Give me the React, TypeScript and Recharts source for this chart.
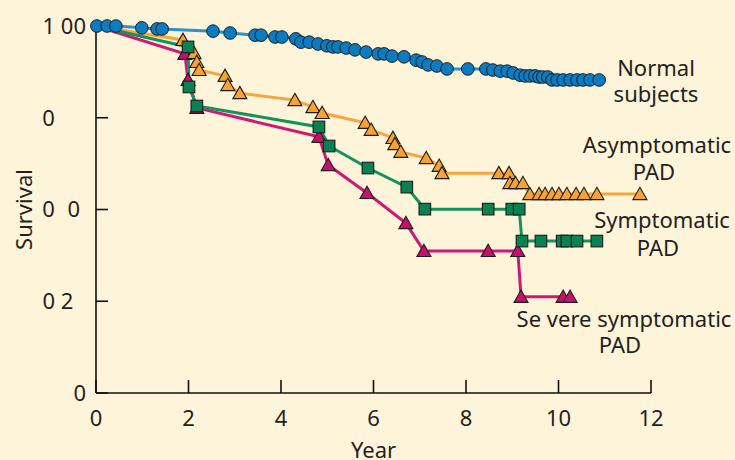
import React from "react";
import { LineChart, Line, XAxis, YAxis, Label } from "recharts";

// Values (year, survival fraction)
const normalYears = [0.02, 0.24, 0.43, 0.99, 1.32, 1.43, 2.53, 2.9, 3.44, 3.57, 3.87, 4.02, 4.32, 4.43, 4.61, 4.8, 4.99, 5.12, 5.23, 5.41, 5.6, 5.84, 6.1, 6.23, 6.4, 6.66, 6.92, 7.05, 7.18, 7.37, 7.59, 8.04, 8.43, 8.58, 8.74, 8.89, 9.02, 9.17, 9.28, 9.38, 9.49, 9.58, 9.66, 9.77, 9.86, 9.97, 10.1, 10.25, 10.4, 10.53, 10.68, 10.88];
const normalSurvival = [1, 1, 1, 0.995, 0.992, 0.992, 0.986, 0.981, 0.975, 0.975, 0.97, 0.97, 0.965, 0.956, 0.956, 0.951, 0.946, 0.943, 0.943, 0.94, 0.935, 0.929, 0.924, 0.924, 0.918, 0.916, 0.907, 0.902, 0.894, 0.891, 0.883, 0.883, 0.883, 0.88, 0.877, 0.877, 0.872, 0.866, 0.864, 0.864, 0.864, 0.861, 0.861, 0.861, 0.853, 0.853, 0.853, 0.853, 0.853, 0.853, 0.853, 0.853];

const asymYears = [0, 1.88, 2.12, 2.18, 2.23, 2.79, 2.85, 3.11, 4.3, 4.69, 4.89, 5.82, 5.95, 6.42, 6.46, 6.59, 7.14, 7.42, 7.48, 8.71, 8.93, 8.95, 9.07, 9.23, 9.38, 9.58, 9.71, 9.86, 10.01, 10.18, 10.38, 10.55, 10.83, 11.76];
const asymSurvival = [1, 0.962, 0.926, 0.902, 0.88, 0.864, 0.839, 0.817, 0.798, 0.779, 0.763, 0.736, 0.717, 0.695, 0.678, 0.657, 0.64, 0.619, 0.599, 0.599, 0.599, 0.572, 0.572, 0.572, 0.542, 0.542, 0.542, 0.542, 0.542, 0.542, 0.542, 0.542, 0.542, 0.542];

const sympYears = [0, 1.99, 2.01, 2.18, 4.82, 5.04, 5.88, 6.72, 7.11, 8.48, 8.99, 9.15, 9.21, 9.62, 10.08, 10.18, 10.4, 10.83];
const sympSurvival = [1, 0.943, 0.834, 0.782, 0.725, 0.673, 0.613, 0.561, 0.501, 0.501, 0.501, 0.501, 0.414, 0.414, 0.414, 0.414, 0.414, 0.414];

const severeYears = [0, 1.92, 1.99, 2.18, 4.82, 5.02, 5.86, 6.7, 7.09, 8.48, 9.12, 9.19, 10.1, 10.25];
const severeSurvival = [1, 0.924, 0.853, 0.777, 0.698, 0.621, 0.545, 0.463, 0.387, 0.387, 0.387, 0.262, 0.262, 0.262];

const xTicks = [0, 2, 4, 6, 8, 10, 12];
const yTicks = [0, 0.25, 0.5, 0.75, 1];
// tick labels as printed in the reference (figure/punctuation spaces keep the gaps)
const yTickLabels = ["0", "0 2\u2007", "0\u20070\u2008", "0\u2008\u2007\u2007", "1 00"];

const BG = "#fdf4d9";
const INK = "#231f20";
const FONT = "'Noto Sans', 'DejaVu Sans', sans-serif";

const toPoints = (years: number[], survival: number[]) =>
  years.map((year, i) => ({ year, survival: survival[i] }));

const normal = toPoints(normalYears, normalSurvival);
const asymptomatic = toPoints(asymYears, asymSurvival);
const symptomatic = toPoints(sympYears, sympSurvival);
const severe = toPoints(severeYears, severeSurvival);

const MARK_STROKE = "#1b1b1b";

const circleDot = (fill: string) => (p: any) => (
  <circle key={`c-${p.index}`} cx={p.cx} cy={p.cy} r={6.3} fill={fill} stroke={MARK_STROKE} strokeWidth={1} />
);

// first point of each PAD curve is the (0, 1) start, drawn without a marker
const triangleDot = (fill: string) => (p: any) => {
  if (p.index === 0) return <g key={`t-${p.index}`} />;
  const { cx, cy } = p;
  return (
    <polygon
      key={`t-${p.index}`}
      points={`${cx},${cy - 6.8} ${cx + 7},${cy + 5.5} ${cx - 7},${cy + 5.5}`}
      fill={fill}
      stroke={MARK_STROKE}
      strokeWidth={1.1}
      strokeLinejoin="miter"
    />
  );
};

const squareDot = (fill: string) => (p: any) => {
  if (p.index === 0) return <g key={`s-${p.index}`} />;
  return (
    <rect key={`s-${p.index}`} x={p.cx - 5.8} y={p.cy - 5.8} width={11.6} height={11.6} fill={fill} stroke={MARK_STROKE} strokeWidth={1.1} />
  );
};

function YTick({ x, y, payload }: any) {
  const label = yTickLabels[yTicks.indexOf(payload.value)];
  return (
    <text x={x} y={y} dy="0.36em" textAnchor="end" fill={INK} fontSize={22} fontFamily={FONT}>
      {label}
    </text>
  );
}

const annotations: { x: number; y: number; text: string }[] = [
  { x: 656, y: 76, text: "Normal" },
  { x: 656, y: 102, text: "subjects" },
  { x: 657, y: 153, text: "Asymptomatic" },
  { x: 654, y: 180, text: "PAD" },
  { x: 662, y: 228, text: "Symptomatic" },
  { x: 658, y: 256, text: "PAD" },
  { x: 624, y: 327, text: "Se vere symptomatic" },
  { x: 620, y: 353, text: "PAD" },
];

export default function App() {
  const axisStroke = { stroke: "#111", strokeWidth: 1.6 };
  return (
    <div
      style={{
        position: "absolute",
        left: 0,
        top: 0,
        width: 735,
        height: 460,
        background: BG,
        overflow: "hidden",
        fontFamily: FONT,
      }}
    >
      <LineChart width={735} height={460} margin={{ top: 26, right: 84, bottom: 0, left: 0 }}>
        <XAxis
          type="number"
          dataKey="year"
          domain={[0, 12]}
          ticks={xTicks}
          height={67}
          tickSize={-13}
          tickMargin={30}
          axisLine={axisStroke}
          tickLine={axisStroke}
          tick={{ fill: INK, fontSize: 22, fontFamily: FONT }}
        >
          <Label value="Year" position="insideBottom" offset={2} fill={INK} fontSize={22} fontFamily={FONT} />
        </XAxis>
        <YAxis
          type="number"
          dataKey="survival"
          domain={[0, 1]}
          ticks={yTicks}
          width={96}
          tickSize={-12}
          tickMargin={22}
          axisLine={axisStroke}
          tickLine={axisStroke}
          tick={<YTick />}
        >
          <Label
            value="Survival"
            angle={-90}
            position="insideLeft"
            offset={24}
            fill={INK}
            fontSize={22}
            fontFamily={FONT}
            style={{ textAnchor: "middle" }}
          />
        </YAxis>
        <Line
          data={severe}
          dataKey="survival"
          stroke="#cc1a74"
          strokeWidth={3}
          dot={triangleDot("#c5106c")}
          activeDot={false}
          isAnimationActive={false}
        />
        <Line
          data={asymptomatic}
          dataKey="survival"
          stroke="#f7a53e"
          strokeWidth={3}
          dot={triangleDot("#f7a234")}
          activeDot={false}
          isAnimationActive={false}
        />
        <Line
          data={symptomatic}
          dataKey="survival"
          stroke="#13925e"
          strokeWidth={3}
          dot={squareDot("#0a8150")}
          activeDot={false}
          isAnimationActive={false}
        />
        <Line
          data={normal}
          dataKey="survival"
          stroke="#2a92cd"
          strokeWidth={3}
          dot={circleDot("#0b7cc2")}
          activeDot={false}
          isAnimationActive={false}
        />
      </LineChart>
      <svg
        width={735}
        height={460}
        style={{ position: "absolute", left: 0, top: 0, pointerEvents: "none" }}
      >
        {annotations.map((a) => (
          <text key={`${a.text}-${a.y}`} x={a.x} y={a.y} textAnchor="middle" fill={INK} fontSize={22} fontFamily={FONT}>
            {a.text}
          </text>
        ))}
      </svg>
    </div>
  );
}
